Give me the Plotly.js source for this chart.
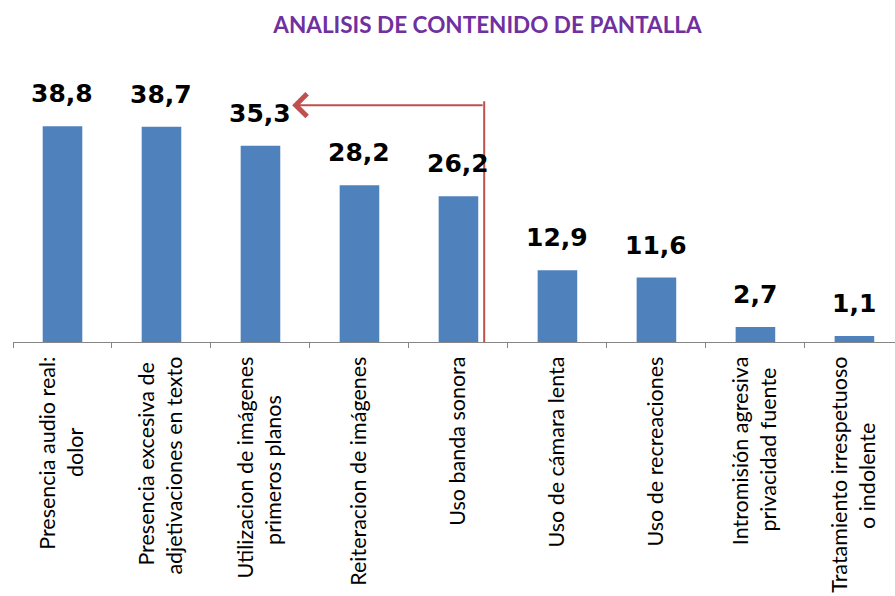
<!DOCTYPE html>
<html>
<head>
<meta charset="utf-8">
<script src="https://cdn.plot.ly/plotly-3.0.1.min.js"></script>
<style>
    html, body { margin: 0; padding: 0; background: #fff; }
    #chart { width: 895px; height: 596px; }
</style>
</head>
<body>
<div id="chart"></div>
<script>
'use strict';

// categories and values
const categories = [
    ['Presencia audio real:', 'dolor'],
    ['Presencia excesiva de', 'adjetivaciones en texto'],
    ['Utilizacion de imágenes', 'primeros planos'],
    ['Reiteracion de imágenes'],
    ['Uso banda sonora'],
    ['Uso de cámara lenta'],
    ['Uso de recreaciones'],
    ['Intromisión agresiva', 'privacidad fuente'],
    ['Tratamiento irrespetuoso', 'o indolente'],
];
const values = [38.8, 38.7, 35.3, 28.2, 26.2, 12.9, 11.6, 2.7, 1.1];
const valueLabels = values.map(v => v.toFixed(1).replace('.', ','));

// arrow marking the first five items (data coordinates)
const arrowX = 4.26;
const arrowTipX = 2.32;
const arrowY = 42.6;
const arrowTop = 43.3;

const barColor = '#4F81BD';
const arrowColor = '#C0504D';
const axisColor = '#868686';
const tickFamily = 'Lato';
const tickSize = 21.5;

// plotly right-aligns rotated lines, the original centres them:
// pad the shorter lines with trailing no-break spaces
const ctx = document.createElement('canvas').getContext('2d');
ctx.font = `${tickSize}px ${tickFamily}`;
const nbspWidth = ctx.measureText('\u00a0').width || tickSize * 0.2;
function centredLabel(lines) {
    const widths = lines.map(l => ctx.measureText(l).width);
    const longest = Math.max(...widths);
    return lines
        .map((l, i) => {
            const n = Math.round((longest - widths[i]) / 2 / nbspWidth);
            return l + '\u00a0'.repeat(n);
        })
        .join('<br>');
}
const keys = categories.map(lines => lines.join(' '));
const tickLabels = categories.map(centredLabel);

const data = [
    {
        type: 'bar',
        x: keys,
        y: values,
        marker: { color: barColor },
        hoverinfo: 'none',
    },
];

// value labels sit well above the bars
const annotations = values.map((v, i) => ({
    x: keys[i],
    y: v,
    xref: 'x',
    yref: 'y',
    text: valueLabels[i],
    showarrow: false,
    yanchor: 'bottom',
    yshift: 16,
    font: { family: 'DejaVu Sans', size: 25, color: '#000', weight: 'bold' },
}));

// horizontal arrow pointing left
annotations.push({
    x: arrowTipX,
    y: arrowY,
    ax: arrowX,
    ay: arrowY,
    xref: 'x',
    yref: 'y',
    axref: 'x',
    ayref: 'y',
    text: '',
    showarrow: true,
    arrowhead: 4,
    arrowsize: 2.2,
    arrowwidth: 2,
    arrowcolor: arrowColor,
});

const layout = {
    width: 895,
    height: 596,
    margin: { l: 13, r: 0, t: 64, b: 254 },
    paper_bgcolor: '#fff',
    plot_bgcolor: '#fff',
    showlegend: false,
    bargap: 0.6,
    title: {
        text: '<b>ANALISIS DE CONTENIDO DE PANTALLA</b>',
        font: { family: 'Lato, "Open Sans", sans-serif', size: 22.5, color: '#7030A0' },
        xref: 'paper',
        x: 0.538,
        xanchor: 'center',
        yref: 'container',
        y: 0.958,
        yanchor: 'middle',
    },
    xaxis: {
        type: 'category',
        range: [-0.5, 8.41],
        showline: true,
        linecolor: axisColor,
        linewidth: 1,
        ticks: 'outside',
        tickson: 'boundaries',
        ticklen: 5,
        tickcolor: axisColor,
        tickangle: -90,
        ticklabelstandoff: 5,
        tickmode: 'array',
        tickvals: keys,
        ticktext: tickLabels,
        tickfont: { family: tickFamily, size: tickSize, color: '#000' },
        showgrid: false,
        fixedrange: true,
    },
    yaxis: {
        range: [0, 50],
        visible: false,
        showgrid: false,
        zeroline: false,
        fixedrange: true,
    },
    shapes: [
        {
            type: 'line',
            xref: 'x',
            yref: 'y',
            x0: arrowX,
            x1: arrowX,
            y0: 0,
            y1: arrowTop,
            line: { color: arrowColor, width: 2 },
            layer: 'above',
        },
    ],
    annotations: annotations,
};

Plotly.newPlot('chart', data, layout, { staticPlot: true });
</script>
</body>
</html>
